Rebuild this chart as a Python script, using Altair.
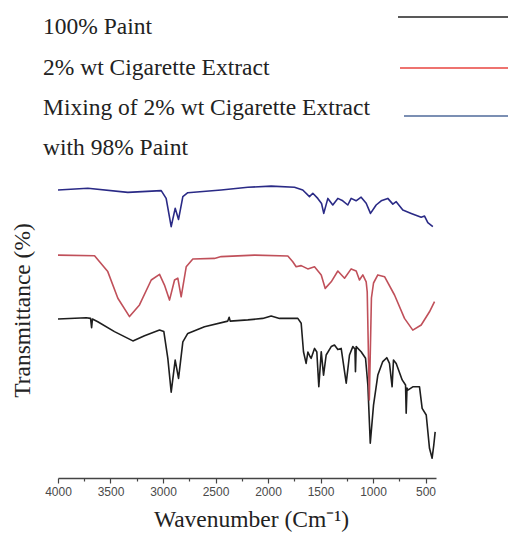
import altair as alt
import pandas as pd

# ---- data ----
paint_wn = [4000, 3731, 3690, 3680, 3672, 3621, 3462, 3287, 3176, 3033, 2992, 2954, 2922,
            2884, 2852, 2811, 2764, 2605, 2383, 2370, 2360, 2192, 2050, 1970, 1890, 1716,
            1684, 1662, 1637, 1620, 1600, 1589, 1557, 1535, 1516, 1493, 1471, 1446, 1398,
            1367, 1335, 1303, 1255, 1224, 1192, 1172, 1167, 1160, 1113, 1071, 1049, 1026,
            995, 954, 907, 869, 843, 818, 805, 779, 722, 690, 684, 676, 668, 621, 557, 532,
            493, 462, 437, 421, 408]
paint_t = [53, 53.4, 53.2, 50.1, 53, 52.1, 48.8, 45.7, 47.4, 49.3, 48.8, 39.9, 28.6,
           39.3, 33.2, 45.4, 48.2, 50.4, 52.3, 53.6, 52.3, 52.7, 53.2, 54, 53.2, 53.2,
           51.6, 42.1, 38.2, 42, 40.5, 39.9, 43.2, 42, 30.4, 42.1, 34.3, 41, 43.8,
           44.3, 42.8, 43.2, 31.6, 41, 43.8, 43, 35.4, 43.8, 42.1, 39.9, 31, 11.6,
           24.3, 34.3, 38.8, 40.1, 38.2, 30.4, 39.3, 38.2, 32.7, 31, 21.6, 30, 29.3, 30.4, 30.4, 23.2,
           21, 9.9, 6.6, 11, 15.4]

extract_wn = [4000, 3652, 3526, 3430, 3319, 3224, 3112, 3033, 2986, 2938, 2890, 2859, 2827,
              2779, 2716, 2510, 2446, 2128, 1811, 1764, 1732, 1684, 1621, 1557, 1493, 1455,
              1398, 1335, 1271, 1208, 1160, 1129, 1097, 1065, 1055, 1035, 1015, 995, 954,
              890, 795, 700, 621, 541, 462, 414]
extract_t = [74.3, 74.1, 68.8, 59.9, 53.8, 57.7, 66, 67.9, 64.3, 59.3, 66, 66.6, 60.4,
             70.4, 73, 73.2, 73.8, 74.3, 74, 72.1, 70.4, 70.8, 69.7, 70.4, 67.7, 63.2,
             65.4, 69, 66.6, 69.7, 69, 66, 67.7, 65.4, 62, 26, 60, 65, 67.7,
             67.1, 61, 53.2, 49.3, 51, 55.4, 58.8]

mix_wn = [4000, 3716, 3335, 3017, 2970, 2922, 2884, 2852, 2811, 2764, 2446, 2192, 1970,
          1748, 1669, 1605, 1573, 1526, 1490, 1469, 1430, 1383, 1335, 1288, 1240, 1208,
          1161, 1113, 1065, 1024, 970, 922, 859, 811, 779, 716, 636, 541, 509, 478, 430]
mix_t = [96, 96.6, 95.2, 95.8, 93.2, 83.8, 89.9, 86.2, 93.8, 95.1, 96, 96.9, 97.3,
         96.9, 96, 93.8, 94.9, 93.2, 91.5, 88.2, 93.2, 91, 93.2, 92.4, 91, 93.2,
         92.4, 93.6, 91.6, 88.2, 91, 92.4, 93.2, 91.3, 92.1, 89.3, 88.2, 86.9, 87.3, 85.1, 83.8]

series_names = ["100% Paint", "2% wt Cigarette Extract",
                "Mixing of 2% wt Cigarette Extract with 98% Paint"]
series_colors = ["#1e1e1e", "#c0505a", "#2a2a86"]

legend_labels = ["100% Paint", "2% wt Cigarette Extract",
                 "Mixing of 2% wt Cigarette Extract", "with 98% Paint"]
legend_line_colors = ["#222222", "#e8453f", "#4f6a9a"]

tick_values = [4000, 3750, 3500, 3250, 3000, 2750, 2500, 2250, 2000, 1750,
               1500, 1250, 1000, 750, 500]

# ---- build table ----
frames = []
for name, wn, tr in [(series_names[0], paint_wn, paint_t),
                     (series_names[1], extract_wn, extract_t),
                     (series_names[2], mix_wn, mix_t)]:
    assert len(wn) == len(tr), name
    frames.append(pd.DataFrame({"series": name, "wavenumber": wn,
                                "transmittance": tr, "idx": range(len(wn))}))
df = pd.concat(frames, ignore_index=True)

SERIF = "Liberation Serif"
TITLE_SIZE = 23.5

spectra = alt.Chart(df).mark_line(strokeWidth=1.6, strokeJoin="round").encode(
    x=alt.X("wavenumber:Q",
            scale=alt.Scale(domain=[400, 4000], reverse=True, nice=False, zero=False),
            axis=alt.Axis(values=tick_values, format="d",
                          labelExpr="datum.value % 500 === 0 ? datum.label : ''",
                          grid=False, domainColor="#444444", domainWidth=1.5,
                          tickColor="#444444", tickWidth=1.2,
                          tickSize={"condition": {"test": "datum.value % 500 === 0", "value": 5},
                                    "value": 3},
                          labelFont="Liberation Sans", labelFontSize=12, labelColor="#4a4a4a",
                          labelPadding=3, labelFlush=False, labelOverlap=False,
                          title="Wavenumber (Cm⁻¹)", titleFont=SERIF,
                          titleFontSize=TITLE_SIZE, titleFontWeight="normal",
                          titleColor="#222222", titleX=193, titleY=48,
                          titleBaseline="alphabetic")),
    y=alt.Y("transmittance:Q",
            scale=alt.Scale(domain=[0, 100], nice=False, zero=False),
            axis=alt.Axis(domain=False, ticks=False, labels=False, grid=False,
                          title="Transmittance (%)", titleFont=SERIF,
                          titleFontSize=TITLE_SIZE, titleFontWeight="normal",
                          titleColor="#222222", titleAngle=270, titleX=-29, titleY=132,
                          titleBaseline="alphabetic")),
    color=alt.Color("series:N", scale=alt.Scale(domain=series_names, range=series_colors),
                    legend=None),
    order=alt.Order("idx:Q"),
)

layers = [spectra]

# ---- hand-made legend (labels left, line samples right) ----
text_y = [-144, -103, -63, -23]
for lbl, yy in zip(legend_labels, text_y):
    layers.append(
        alt.Chart(pd.DataFrame({"label": [lbl]})).mark_text(
            font=SERIF, fontSize=TITLE_SIZE, color="#222222", align="left",
            baseline="alphabetic").encode(
            text="label:N", x=alt.value(-15), y=alt.value(yy))
    )

line_y = [-161, -110, -62]
line_x0 = [340, 342, 346]
for col, yy, x0, nm in zip(legend_line_colors, line_y, line_x0, series_names):
    layers.append(
        alt.Chart(pd.DataFrame({"series": [nm]})).mark_rule(
            color=col, strokeWidth=1.5).encode(
            x=alt.value(x0), x2=alt.value(450), y=alt.value(yy))
    )

chart = alt.layer(*layers).properties(
    width=378, height=300,
    background="white",
    autosize=alt.AutoSizeParams(type="none"),
    padding={"left": 50, "top": 170, "right": 72, "bottom": 56},
).configure_view(stroke=None, strokeWidth=0)

chart.save("out.html", embed_options={"renderer": "svg", "actions": False})
